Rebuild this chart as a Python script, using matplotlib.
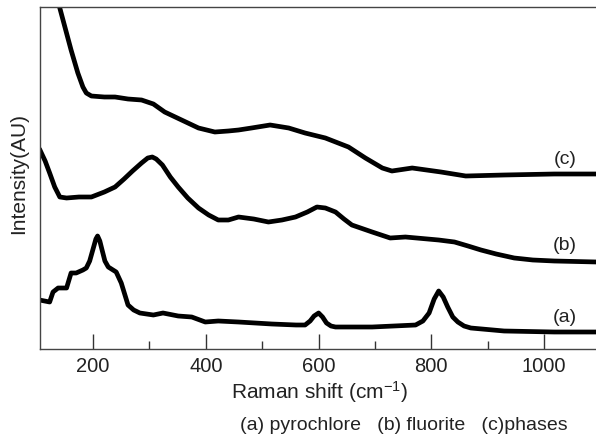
import matplotlib
matplotlib.use("Agg")
import matplotlib.pyplot as plt
from matplotlib.ticker import MultipleLocator

plt.rcParams['font.family'] = ['Liberation Sans', 'DejaVu Sans']
plt.rcParams['mathtext.fontset'] = 'custom'
plt.rcParams['mathtext.rm'] = 'Liberation Sans'
plt.rcParams['mathtext.default'] = 'regular'

# Raman spectra (intensity in arbitrary units, offsets included)
shift_c = [133, 141, 151, 161, 173, 182, 188, 197, 220, 239, 262, 286, 307, 327, 357, 387, 416, 440, 458,
           481, 514, 547, 576, 612, 653, 683, 713, 730, 766, 817, 861, 929, 1018, 1094]
int_c = [360, 341, 320, 299, 276, 262, 256, 253, 252, 252, 250, 249, 245, 237, 229, 221, 217, 218, 219,
         221, 224, 221, 216, 211, 202, 191, 181, 178, 181, 177, 173, 174, 175, 175]

shift_b = [105, 115, 123, 132, 141, 153, 175, 197, 220, 239, 255, 270, 286, 297, 305, 312, 323, 337,
           351, 368, 387, 405, 422, 440, 458, 485, 511, 535, 559, 580, 597, 612, 630, 645, 659,
           695, 727, 754, 813, 841, 865, 888, 915, 947, 980, 1018, 1094]
int_b = [200, 188, 176, 162, 152, 151, 152, 152, 157, 162, 170, 178, 186, 191, 192, 190, 184, 172,
         162, 151, 141, 134, 129, 129, 132, 130, 127, 129, 132, 137, 142, 141, 137, 130, 124,
         117, 111, 112, 109, 107, 103, 99, 95, 91, 89, 88, 87]

shift_a = [105, 123, 129, 138, 153, 161, 170, 182, 188, 194, 200, 205, 208, 212, 216, 221, 227, 241, 250,
           256, 262, 272, 283, 307, 324, 351, 375, 399, 422, 458, 517, 560, 576, 585, 592, 600, 607,
           614, 622, 630, 695, 772, 785, 796, 805, 813, 821, 829, 838, 847, 858, 870, 929, 1018, 1094]
int_a = [49, 47, 57, 61, 61, 76, 76, 79, 81, 88, 100, 110, 113, 108, 99, 88, 82, 77, 66,
         55, 44, 39, 36, 34, 36, 33, 32, 27, 28, 27, 25, 24, 24, 28, 33, 36, 32,
         26, 23, 22, 22, 24, 28, 36, 50, 58, 52, 42, 32, 27, 23, 21, 18, 17, 17]

labels = ['(c)', '(b)', '(a)']
label_x = 1037
label_y = [189, 104, 32]

fig = plt.figure(figsize=(5.96, 4.36), dpi=100)
ax = fig.add_axes([39.5 / 596, 87 / 436, 556.5 / 596, 341.5 / 436])

for sx, sy in [(shift_c, int_c), (shift_b, int_b), (shift_a, int_a)]:
    ax.plot(sx, sy, color='black', lw=3.4, solid_joinstyle='round', solid_capstyle='round')

for lab, ly in zip(labels, label_y):
    ax.text(label_x, ly, lab, fontsize=14, color='#222222', ha='center', va='center')

ax.set_xlim(105, 1092)
ax.set_ylim(0, 341.5)
ax.set_yticks([])
ax.xaxis.set_major_locator(MultipleLocator(200))
ax.xaxis.set_minor_locator(MultipleLocator(100))
ax.tick_params(axis='x', which='major', direction='in', length=10.8, width=1.0,
               color='#333333', labelsize=14.5, pad=6, labelcolor='#222222')
ax.tick_params(axis='x', which='minor', direction='in', length=6, width=1.0, color='#333333')
ax.tick_params(axis='x', top=False, which='both')
ax.spines['right'].set_visible(False)
for s in ['left', 'bottom', 'top']:
    ax.spines[s].set_color('#444444')
    ax.spines[s].set_linewidth(1.0)

fig.text(319 / 596, 1 - 392 / 436, 'Raman shift (cm$^{-1}$)', fontsize=15,
         ha='center', va='center', color='#222222')
fig.text(19 / 596, 1 - 174 / 436, 'Intensity(AU)', fontsize=15, rotation=90,
         ha='center', va='center', color='#222222')
fig.text(404 / 596, 1 - 425 / 436, '(a) pyrochlore   (b) fluorite   (c)phases',
         fontsize=14, ha='center', va='center', color='#222222')

fig.savefig('out.png', dpi=100)
